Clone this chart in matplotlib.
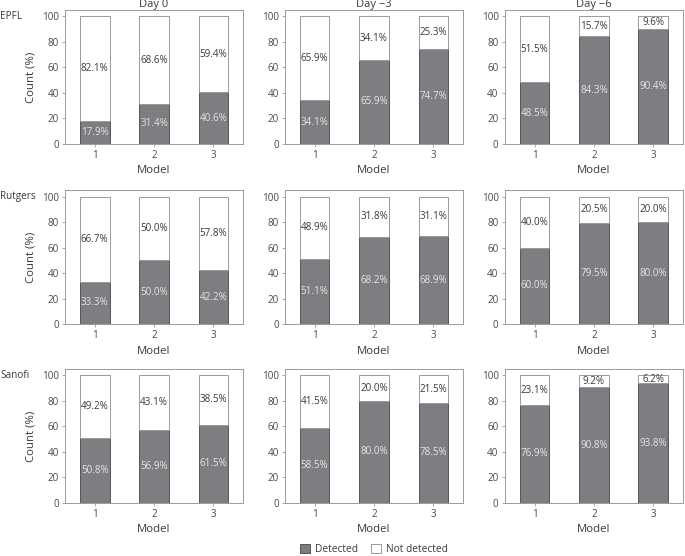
import numpy as np
import matplotlib
matplotlib.use("Agg")
import matplotlib.pyplot as plt
from matplotlib.patches import Patch

plt.rcParams['font.family'] = ['Open Sans', 'DejaVu Sans']

sites = ['EPFL', 'Rutgers', 'Sanofi']
days = ['Day 0', 'Day \u22123', 'Day \u22126']
models = [1, 2, 3]

# detected (%) per site, per day, per model
epfl_det = [[17.9, 31.4, 40.6], [34.1, 65.9, 74.7], [48.5, 84.3, 90.4]]
epfl_not = [[82.1, 68.6, 59.4], [65.9, 34.1, 25.3], [51.5, 15.7, 9.6]]
rutgers_det = [[33.3, 50.0, 42.2], [51.1, 68.2, 68.9], [60.0, 79.5, 80.0]]
rutgers_not = [[66.7, 50.0, 57.8], [48.9, 31.8, 31.1], [40.0, 20.5, 20.0]]
sanofi_det = [[50.8, 56.9, 61.5], [58.5, 80.0, 78.5], [76.9, 90.8, 93.8]]
sanofi_not = [[49.2, 43.1, 38.5], [41.5, 20.0, 21.5], [23.1, 9.2, 6.2]]

detected = [epfl_det, rutgers_det, sanofi_det]
not_detected = [epfl_not, rutgers_not, sanofi_not]

dark = '#7d7d82'
spine_c = '#9a9a9a'
txt_c = '#3a3a3a'

fig = plt.figure(figsize=(6.85, 5.56), dpi=100)

lefts = [0.0949, 0.416, 0.737]
bottoms = [0.741, 0.417, 0.0953]
w, h = 0.26, 0.241

for r in range(3):
    for c in range(3):
        ax = fig.add_axes([lefts[c], bottoms[r], w, h])
        det = np.array(detected[r][c])
        nd = np.array(not_detected[r][c])
        ax.bar(models, det, width=0.5, color=dark, edgecolor='#555555', linewidth=0.7)
        ax.bar(models, nd, width=0.5, bottom=det, color='white', edgecolor=spine_c, linewidth=0.7)
        for m, d, n in zip(models, det, nd):
            ax.text(m, d / 2, f'{d:.1f}%', ha='center', va='center', fontsize=7.1, color='#e6e6e6')
            ax.text(m, d + n / 2, f'{n:.1f}%', ha='center', va='center', fontsize=7.1, color=txt_c)
        ax.set_xlim(0.5, 3.5)
        ax.set_ylim(0, 105)
        ax.set_xticks(models)
        ax.set_yticks(range(0, 101, 20))
        ax.tick_params(labelsize=7.1, colors=spine_c, labelcolor='#4a4a4a', length=2.5, width=0.6, pad=2)
        for s in ax.spines.values():
            s.set_color(spine_c)
            s.set_linewidth(0.7)
        ax.set_xlabel('Model', fontsize=8.2, color=txt_c, labelpad=3)
        if c == 0:
            ax.set_ylabel('Count (%)', fontsize=8.2, color=txt_c, labelpad=4)
            ax.text(-0.365, 100, sites[r], transform=ax.get_yaxis_transform(),
                    ha='left', va='center', fontsize=7.2, color=txt_c)
        if r == 0:
            ax.set_title(days[c], fontsize=8, color=txt_c, pad=0.5)

handles = [Patch(facecolor=dark, edgecolor='#555555', linewidth=0.7, label='Detected'),
           Patch(facecolor='white', edgecolor=spine_c, linewidth=0.7, label='Not detected')]
leg = fig.legend(handles=handles, loc='center', bbox_to_anchor=(0.546, 0.012), ncol=2,
                 frameon=False, fontsize=7.3, handlelength=1.0, handleheight=1.0,
                 handletextpad=0.5, columnspacing=1.2, borderpad=0.2)
for t in leg.get_texts():
    t.set_color(txt_c)

fig.savefig('out.png', dpi=100)
